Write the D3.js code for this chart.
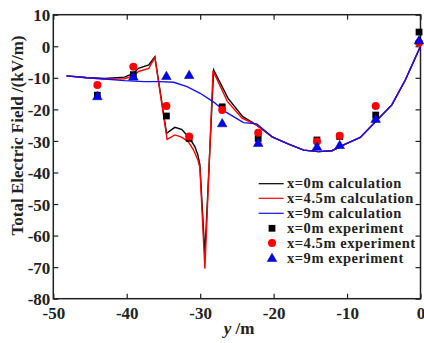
<!DOCTYPE html>
<html><head><meta charset="utf-8">
<script src="https://cdn.jsdelivr.net/npm/d3@7"></script>
<style>body{margin:0;background:#fff}svg{display:block}</style>
</head><body>
<script>
// ---- data ----
const calcBlackY = [-48.2,-45.5,-43,-40.3,-39.1,-38.4,-37.0,-36.17,-34.58,-33.45,-32.53,-31.63,-30.72,-30.31,-30.04,-29.36,-28.17,-26.2,-24.2,-22.3,-20.2,-17.96,-15.9,-13.9,-12.06,-10.24,-8.2,-5.9,-3.9,-2.07,0];
const calcBlackE = [-9.4,-9.9,-10.2,-9.8,-8.6,-7.0,-5.9,-3.3,-27.6,-25.7,-26.3,-28.6,-31.8,-34.5,-37.5,-66,-7.5,-16.5,-22.3,-25.0,-28.7,-31.0,-32.9,-33.4,-33.1,-31.0,-28.9,-23.4,-18.6,-10.7,0];
const calcRedY = [-48.2,-45.5,-43,-40.3,-39.1,-38.4,-37.0,-36.17,-34.5,-33.45,-32.53,-31.63,-30.9,-30.31,-30.04,-29.36,-28.25,-26.3,-24.3,-22.3,-20.2,-17.96,-15.9,-13.9,-12.06,-10.24,-8.2,-5.9,-3.9,-2.07,0];
const calcRedE = [-9.4,-10.0,-10.4,-10.3,-9.4,-8.0,-7.0,-3.5,-29.5,-28.1,-28.8,-30.2,-32.9,-36.0,-38.5,-70.5,-7.8,-17.5,-22.8,-25.0,-28.7,-31.0,-32.9,-33.4,-33.1,-31.0,-28.9,-23.4,-18.6,-10.7,0];
const calcBlueY = [-48.2,-45.5,-43,-40.3,-37.6,-35.5,-33.6,-31.8,-30.0,-28.2,-26.6,-24.1,-22.3,-20.2,-17.96,-15.9,-13.9,-12.06,-10.24,-8.2,-5.9,-3.9,-2.07,0];
const calcBlueE = [-9.4,-10.0,-10.4,-10.9,-11.2,-11.2,-11.4,-12.8,-14.9,-17.6,-20.7,-24.2,-24.6,-28.7,-31.0,-32.9,-33.4,-33.1,-31.0,-28.9,-23.4,-18.6,-10.7,0];

const expY = [-44,-39.1,-34.6,-31.5,-27.0,-22.1,-14.1,-11.0,-6.1,-0.2];
const expBlack = [-15.5,-9.0,-22.1,-29.2,-19.2,-29.2,-29.7,-28.6,-21.8,4.5];
const expRed = [-12.3,-6.5,-18.9,-28.6,-20.2,-27.4,-30.2,-28.4,-18.9,1.1];
const expBlue = [-15.8,-9.6,-9.4,-9.1,-24.4,-30.6,-31.8,-31.3,-23.0,1.9];

const xTicks = [-50,-40,-30,-20,-10,0];
const yTicks = [10,0,-10,-20,-30,-40,-50,-60,-70,-80];
const legendLabels = ["x=0m calculation","x=4.5m calculation","x=9m calculation","x=0m experiment","x=4.5m experiment","x=9m experiment"];

// ---- chart ----
const W = 424, H = 343;
const L = 53.3, R = 420.5, T = 14.7, B = 298.7;
const font = "Liberation Serif";
const svg = d3.select("body").append("svg").attr("width", W).attr("height", H)
  .style("font-family", "'Liberation Serif', serif");
const x = d3.scaleLinear().domain([-50, 0]).range([L, R]);
const y = d3.scaleLinear().domain([-80, 10]).range([B, T]);

const tk = 5;
const axisCol = "#222";
const fmt = d => String(d);
// axes
const gB = svg.append("g").attr("transform", `translate(0,${B})`)
  .call(d3.axisBottom(x).tickValues(xTicks).tickSizeInner(-tk).tickSizeOuter(0).tickPadding(8).tickFormat(fmt));
const gT = svg.append("g").attr("transform", `translate(0,${T})`)
  .call(d3.axisTop(x).tickValues(xTicks).tickSizeInner(-tk).tickSizeOuter(0).tickFormat(""));
const gL = svg.append("g").attr("transform", `translate(${L},0)`)
  .call(d3.axisLeft(y).tickValues(yTicks).tickSizeInner(-tk).tickSizeOuter(0).tickPadding(3).tickFormat(fmt));
const gR = svg.append("g").attr("transform", `translate(${R},0)`)
  .call(d3.axisRight(y).tickValues(yTicks).tickSizeInner(-tk).tickSizeOuter(0).tickFormat(""));
[gB, gT, gL, gR].forEach(g => {
  g.attr("font-family", null).attr("font-size", null);
  g.select(".domain").remove();
  g.selectAll("line").attr("stroke", axisCol).attr("stroke-width", 1.2);
  g.selectAll("text").style("font-family", "'Liberation Serif', serif").attr("font-weight", "bold").attr("font-size", 17).attr("fill", "#222");
});
gB.selectAll("text").attr("dy", "0.74em");
gL.selectAll("text").attr("dy", "0.36em");
svg.append("rect").attr("x", L).attr("y", T).attr("width", R - L).attr("height", B - T)
  .attr("fill", "none").attr("stroke", axisCol).attr("stroke-width", 1.5);

// lines
const line = d3.line().x(d => x(d[0])).y(d => y(d[1]));
const series = [
  {ys: calcBlackY, es: calcBlackE, c: "#000000"},
  {ys: calcRedY, es: calcRedE, c: "#ff0000"},
  {ys: calcBlueY, es: calcBlueE, c: "#1010ff"}
];
series.forEach(s => {
  svg.append("path").datum(s.ys.map((v, i) => [v, s.es[i]]))
    .attr("d", line).attr("fill", "none").attr("stroke", s.c).attr("stroke-width", 1.4)
    .attr("stroke-linejoin", "miter");
});

// markers
const sq = d3.symbol().type(d3.symbolSquare).size(46);
const tri = d3.symbol().type(d3.symbolTriangle).size(40);
svg.append("g").selectAll("path").data(expY.map((v, i) => [v, expBlack[i]])).join("path")
  .attr("d", sq).attr("transform", d => `translate(${x(d[0])},${y(d[1])})`).attr("fill", "#000");
svg.append("g").selectAll("circle").data(expY.map((v, i) => [v, expRed[i]])).join("circle")
  .attr("cx", d => x(d[0])).attr("cy", d => y(d[1])).attr("r", 4).attr("fill", "#ff0000");
svg.append("g").selectAll("path").data(expY.map((v, i) => [v, expBlue[i]])).join("path")
  .attr("d", tri).attr("transform", d => `translate(${x(d[0])},${y(d[1]) + 0.8})`).attr("fill", "#0000ff")
  .attr("stroke", "#000060").attr("stroke-width", 0.5);

// legend
const legY = [183.7, 198.3, 213.3, 228.3, 243, 258];
const legColors = ["#000", "#ff0000", "#1010ff", "#000", "#ff0000", "#0000ff"];
legendLabels.forEach((lab, i) => {
  const yy = legY[i];
  if (i < 3) {
    svg.append("line").attr("x1", 258.7).attr("x2", 283.7).attr("y1", yy).attr("y2", yy)
      .attr("stroke", legColors[i]).attr("stroke-width", 1.2);
  } else if (i === 3) {
    svg.append("path").attr("d", sq).attr("transform", `translate(272,${yy})`).attr("fill", "#000");
  } else if (i === 4) {
    svg.append("circle").attr("cx", 272).attr("cy", yy).attr("r", 4).attr("fill", "#ff0000");
  } else {
    svg.append("path").attr("d", tri).attr("transform", `translate(272,${yy + 0.8})`).attr("fill", "#0000ff")
      .attr("stroke", "#000060").attr("stroke-width", 0.5);
  }
  svg.append("text").attr("x", 287).attr("y", yy).attr("dy", "0.33em")
    .style("font-family", "'Liberation Serif', serif").attr("font-weight", "bold").attr("font-size", 14.5)
    .attr("letter-spacing", 0.55).attr("fill", "#222").text(lab);
});

// axis titles
const xt = svg.append("text").attr("x", 239).attr("y", 334).attr("text-anchor", "middle")
  .style("font-family", "'Liberation Serif', serif").attr("font-weight", "bold").attr("font-size", 17).attr("fill", "#222");
xt.append("tspan").attr("font-style", "italic").text("y");
xt.append("tspan").text(" /m");
svg.append("text").attr("transform", "translate(23,135.5) rotate(-90)").attr("text-anchor", "middle")
  .style("font-family", "'Liberation Serif', serif").attr("font-weight", "bold").attr("font-size", 17).attr("fill", "#222")
  .text("Total Electric Field /(kV/m)");
</script>
</body></html>
